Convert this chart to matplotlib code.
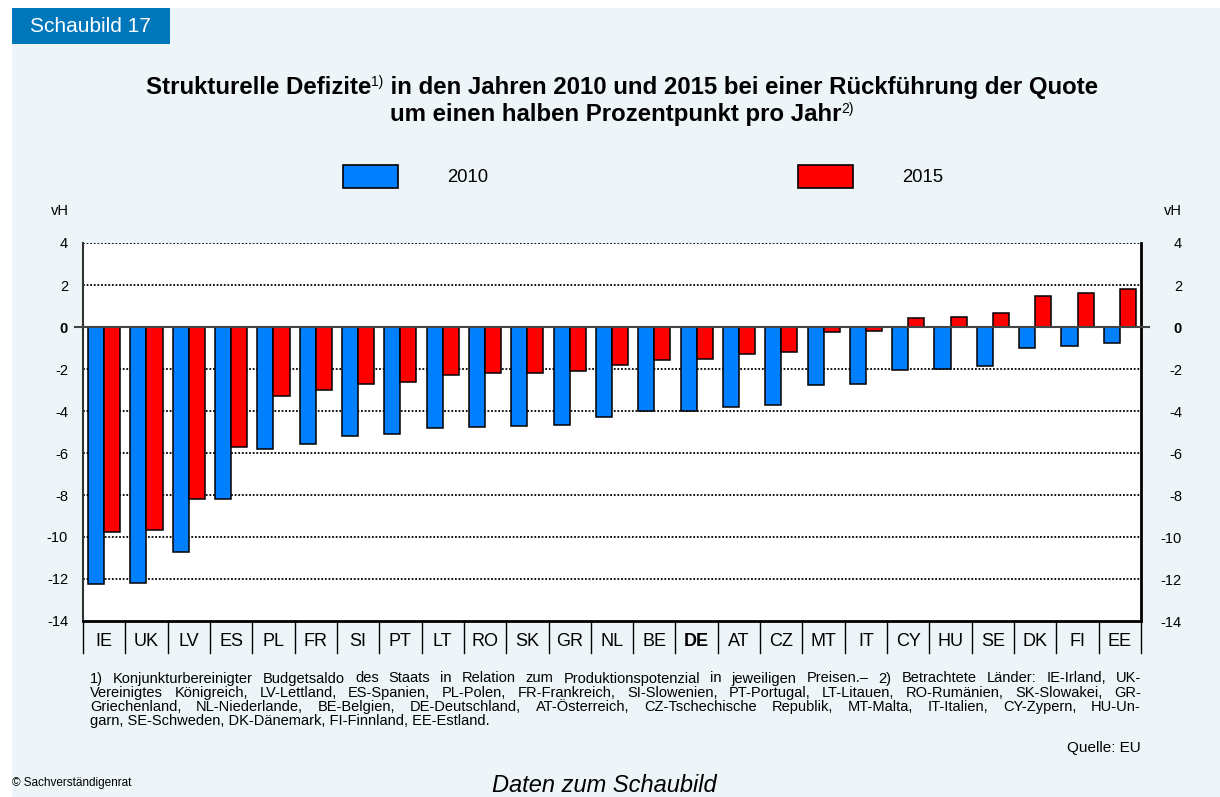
import matplotlib
matplotlib.use("Agg")
import matplotlib.pyplot as plt
import matplotlib.transforms as mtransforms
from matplotlib.patches import Rectangle
import numpy as np

plt.rcParams['font.family'] = ['Liberation Sans', 'DejaVu Sans']

# ---------------- data ----------------
countries = ["IE", "UK", "LV", "ES", "PL", "FR", "SI", "PT", "LT", "RO", "SK", "GR", "NL",
             "BE", "DE", "AT", "CZ", "MT", "IT", "CY", "HU", "SE", "DK", "FI", "EE"]
values_2010 = [-12.25, -12.2, -10.7, -8.2, -5.8, -5.55, -5.2, -5.1, -4.8, -4.75, -4.7, -4.65, -4.3,
               -4.0, -4.0, -3.8, -3.7, -2.75, -2.7, -2.05, -2.0, -1.85, -1.0, -0.9, -0.75]
values_2015 = [-9.75, -9.65, -8.2, -5.7, -3.3, -3.0, -2.7, -2.6, -2.3, -2.2, -2.2, -2.1, -1.8,
               -1.55, -1.5, -1.3, -1.2, -0.25, -0.2, 0.45, 0.5, 0.65, 1.5, 1.6, 1.8]
series_labels = ["2010", "2015"]
yticks = [4, 2, 0, -2, -4, -6, -8, -10, -12, -14]

title1 = [("Strukturelle Defizite", "b"), ("1)", "s"),
          (" in den Jahren 2010 und 2015 bei einer Rückführung der Quote", "b")]
title2 = [("um einen halben Prozentpunkt pro Jahr", "b"), ("2)", "s")]
footnote_lines = [
    "1) Konjunkturbereinigter Budgetsaldo des Staats in Relation zum Produktionspotenzial in jeweiligen Preisen.– 2) Betrachtete Länder: IE-Irland, UK-",
    "Vereinigtes Königreich, LV-Lettland, ES-Spanien, PL-Polen, FR-Frankreich, SI-Slowenien, PT-Portugal, LT-Litauen, RO-Rumänien, SK-Slowakei, GR-",
    "Griechenland, NL-Niederlande, BE-Belgien, DE-Deutschland, AT-Österreich, CZ-Tschechische Republik, MT-Malta, IT-Italien, CY-Zypern, HU-Un-",
    "garn, SE-Schweden, DK-Dänemark, FI-Finnland, EE-Estland.",
]

# ---------------- style ----------------
W, H = 1220, 797
BG = "#EDF5F8"
BLUE = "#0080FF"
RED = "#FF0000"
BOX = "#0077BB"

fig = plt.figure(figsize=(W / 100, H / 100), dpi=100, facecolor="white")


def fx(x):
    return x / W


def fy(y):
    return 1 - y / H


# background panel
fig.patches.append(Rectangle((fx(12), 0), 1 - fx(12), fy(8), transform=fig.transFigure,
                             facecolor=BG, edgecolor="none", zorder=-5))
# Schaubild box
fig.patches.append(Rectangle((fx(12), fy(44)), fx(170) - fx(12), fy(8) - fy(44),
                             transform=fig.transFigure, facecolor=BOX, edgecolor="none", zorder=-4))
fig.text(fx(30), fy(26.5), "Schaubild 17", color="white", fontsize=15, va="center", ha="left")

renderer = fig.canvas.get_renderer()


def rich_center(pieces, xc, ybase, size=17.3, sup_size=10, sup_raise=8):
    texts = []
    for s, kind in pieces:
        if kind == "b":
            t = fig.text(0, 0, s, fontsize=size, fontweight="bold", va="baseline", ha="left")
        else:
            t = fig.text(0, 0, s, fontsize=sup_size, va="baseline", ha="left")
        texts.append((t, kind))
    widths = [t.get_window_extent(renderer).width for t, _ in texts]
    x = xc - sum(widths) / 2
    for (t, kind), w in zip(texts, widths):
        yb = ybase - (sup_raise if kind == "s" else 0)
        t.set_position((fx(x), fy(yb)))
        x += w


rich_center(title1, 622, 94)
rich_center(title2, 622, 121)

# legend
for (x0, lab, col) in [(343, series_labels[0], BLUE), (798, series_labels[1], RED)]:
    fig.patches.append(Rectangle((fx(x0), fy(188)), fx(55), fy(165) - fy(188),
                                 transform=fig.transFigure, facecolor=col,
                                 edgecolor="black", linewidth=1.2, zorder=2))
    fig.text(fx(x0 + 104), fy(177), lab, fontsize=13.3, va="center", ha="left")

# vH labels
fig.text(fx(69), fy(211), "vH", fontsize=10.5, ha="right", va="center")
fig.text(fx(1182), fy(211), "vH", fontsize=10.5, ha="right", va="center")

# ---------------- axes ----------------
ax_l, ax_r, ax_t, ax_b = 83, 1141, 243, 621
ax = fig.add_axes([fx(ax_l), fy(ax_b), fx(ax_r - ax_l), fy(ax_t) - fy(ax_b)])
ax.set_facecolor("white")
n = len(countries)
x = np.arange(n)
bw = 0.38
ax.bar(x - bw / 2, values_2010, width=bw, color=BLUE, edgecolor="black", linewidth=1.1, zorder=3)
ax.bar(x + bw / 2, values_2015, width=bw, color=RED, edgecolor="black", linewidth=1.1, zorder=3)
ax.set_xlim(-0.5, n - 0.5)
ax.set_ylim(-14, 4)
ax.set_yticks(yticks)
ax.set_xticks([])
for yv in yticks:
    if yv not in (0, -14):
        ax.axhline(yv, color="black", linewidth=1.3, linestyle=(0, (1, 1)), zorder=1)
ax.axhline(0, xmin=-0.008, xmax=1.008, color="#444444", linewidth=1.5, zorder=4, clip_on=False)

ax.spines["top"].set_visible(False)
ax.spines["left"].set_color("#333333")
ax.spines["left"].set_linewidth(1.5)
ax.spines["bottom"].set_linewidth(2)
ax.spines["right"].set_linewidth(2)
ax.tick_params(axis="y", length=0, labelsize=10.5, pad=10.8, left=True, right=True,
               labelleft=True, labelright=False)
ax.set_yticklabels([str(v) for v in yticks])
for lab in ax.get_yticklabels():
    if lab.get_text() == "0":
        lab.set_fontweight("bold")

# right tick labels (right-aligned)
ax2 = ax.twinx()
ax2.set_ylim(ax.get_ylim())
ax2.set_yticks(yticks)
ax2.set_yticklabels([str(v) for v in yticks])
ax2.tick_params(axis="y", length=0, labelsize=10.5, pad=29.5)
for lab in ax2.get_yticklabels():
    lab.set_horizontalalignment("right")
    if lab.get_text() == "0":
        lab.set_fontweight("bold")
for sp in ax2.spines.values():
    sp.set_visible(False)

# category label row
trans = mtransforms.blended_transform_factory(ax.transData, ax.transAxes)
px_ax = 1.0 / (ax_b - ax_t)
for b in np.arange(n + 1) - 0.5:
    ax.plot([b, b], [0, -32 * px_ax], transform=trans, color="black", linewidth=1.0, clip_on=False)
for i, c in enumerate(countries):
    ax.text(i, -21 * px_ax, c, transform=trans, ha="center", va="center", fontsize=13,
            fontweight="bold" if c == "DE" else "normal")

# ---------------- footnotes ----------------
fn_size = 10.5
fn_x0, fn_x1 = 90, 1141
fn_y = [678.5, 692.8, 707, 721.2]
for i, line in enumerate(footnote_lines):
    if i < len(footnote_lines) - 1:
        words = line.split(" ")
        ts = [fig.text(0, 0, w, fontsize=fn_size, va="center", ha="left") for w in words]
        ws = [t.get_window_extent(renderer).width for t in ts]
        gap = (fn_x1 - fn_x0 - sum(ws)) / (len(words) - 1)
        xx = fn_x0
        for t, w in zip(ts, ws):
            t.set_position((fx(xx), fy(fn_y[i])))
            xx += w + gap
    else:
        fig.text(fx(fn_x0), fy(fn_y[i]), line, fontsize=fn_size, va="center", ha="left")

fig.text(fx(1141), fy(748), "Quelle: EU", fontsize=11, ha="right", va="center")
fig.text(fx(12), fy(783), "© Sachverständigenrat", fontsize=8.5, ha="left", va="center")
fig.text(fx(604), fy(786), "Daten zum Schaubild", fontsize=17, style="italic", ha="center", va="center")

fig.savefig("out.png", dpi=100, facecolor=fig.get_facecolor())
